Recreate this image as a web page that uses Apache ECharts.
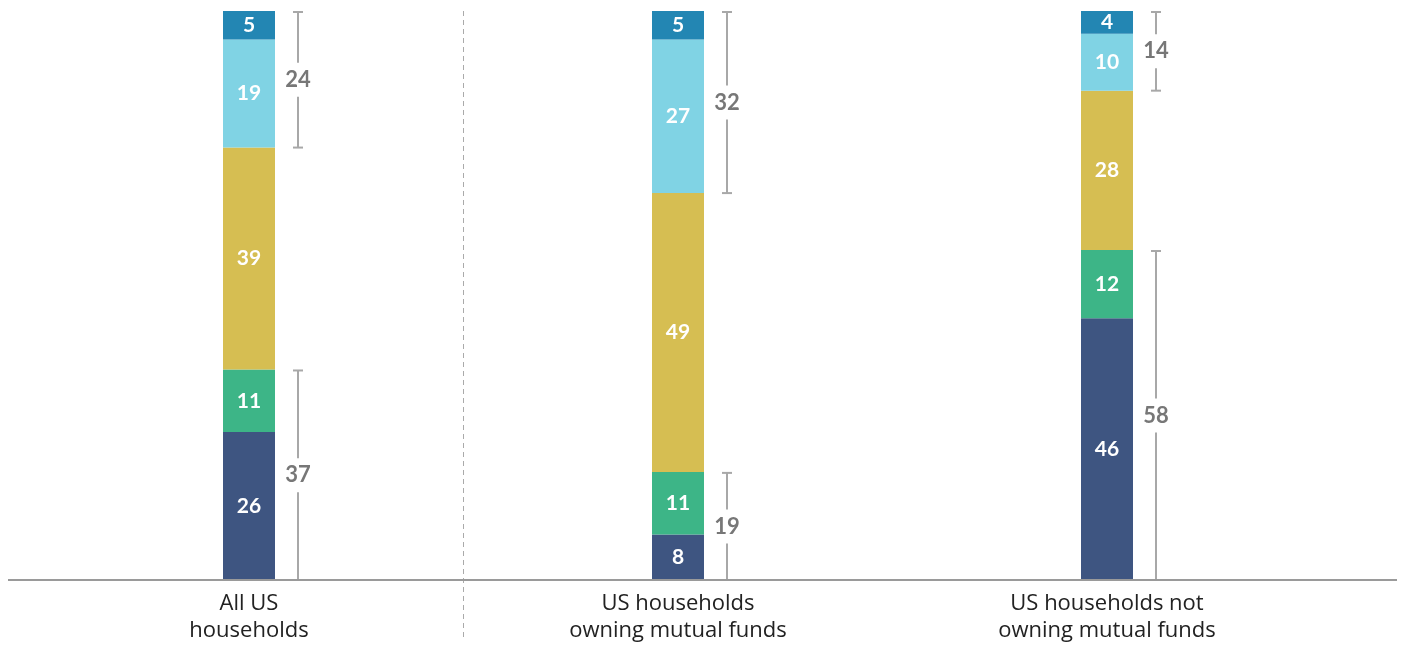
<!DOCTYPE html>
<html>
<head>
<meta charset="utf-8">
<script src="https://cdn.jsdelivr.net/npm/echarts@6/dist/echarts.min.js"></script>
<style>
  html, body { margin: 0; padding: 0; background: #fff; }
  #main { width: 1403px; height: 645px; }
</style>
</head>
<body>
<div id="main"></div>
<script>
// categories and values, bottom segment first
const categories = ['All US\nhouseholds', 'US households\nowning mutual funds', 'US households not\nowning mutual funds'];
const navyVals = [26, 8, 46];
const greenVals = [11, 11, 12];
const yellowVals = [39, 49, 28];
const lightBlueVals = [19, 27, 10];
const blueVals = [5, 5, 4];
// bracket totals: upper two segments and lower two segments
const upperTotals = [24, 32, 14];
const lowerTotals = [37, 19, 58];

const colors = ['#3e5581', '#3db587', '#d6be52', '#80d3e4', '#2386b3'];
const stacks = [navyVals, greenVals, yellowVals, lightBlueVals, blueVals];

// bracket data: [category, from, to, label]
let brackets = [];
categories.forEach(function (c, i) {
  let total = 0;
  stacks.forEach(function (s) { total += s[i]; });
  brackets.push([i, total - upperTotals[i], total, upperTotals[i]]);
  brackets.push([i, 0, lowerTotals[i], lowerTotals[i]]);
});

let myChart = echarts.init(document.getElementById('main'));

let barSeries = stacks.map(function (vals, k) {
  return {
    type: 'bar',
    stack: 'all',
    barWidth: 52,
    data: vals,
    itemStyle: { color: colors[k] },
    label: {
      show: true,
      position: 'inside',
      color: '#fff',
      fontFamily: 'Lato',
      fontWeight: 'bold',
      fontSize: 21
    }
  };
});

let option = {
  animation: false,
  grid: { left: 34.5, right: 81.5, top: 11, bottom: 65 },
  xAxis: {
    type: 'category',
    data: categories,
    axisLine: { show: false },
    axisTick: { show: false },
    axisLabel: {
      margin: 10,
      color: '#222',
      fontFamily: 'Open Sans',
      fontSize: 22,
      lineHeight: 27
    }
  },
  yAxis: { type: 'value', min: 0, max: 100, show: false },
  graphic: [
    {
      type: 'line',
      shape: { x1: 8, y1: 580, x2: 1397, y2: 580 },
      style: { stroke: '#9a9a9a', lineWidth: 2 },
      z: 10
    },
    {
      type: 'line',
      shape: { x1: 463.5, y1: 11, x2: 463.5, y2: 641 },
      style: { stroke: '#aaa', lineWidth: 1, lineDash: [5, 4] }
    }
  ],
  series: barSeries.concat([
    {
      type: 'custom',
      data: brackets,
      clip: false,
      renderItem: function (params, api) {
        let x = api.coord([api.value(0), 0])[0] + 49;
        let yTop = api.coord([api.value(0), api.value(2)])[1] + 1;
        let yBot = api.coord([api.value(0), api.value(1)])[1];
        let ym = (yTop + yBot) / 2;
        let st = { stroke: '#a8a8a8', lineWidth: 2 };
        return {
          type: 'group',
          children: [
            { type: 'line', shape: { x1: x, y1: yTop, x2: x, y2: ym - 17 }, style: st },
            { type: 'line', shape: { x1: x, y1: ym + 17, x2: x, y2: yBot }, style: st },
            { type: 'line', shape: { x1: x - 5, y1: yTop, x2: x + 5, y2: yTop }, style: st },
            { type: 'line', shape: { x1: x - 5, y1: yBot, x2: x + 5, y2: yBot }, style: st },
            {
              type: 'text',
              x: x,
              y: ym,
              style: {
                text: String(api.value(3)),
                fill: '#777',
                font: 'bold 22px Lato',
                align: 'center',
                verticalAlign: 'middle'
              }
            }
          ]
        };
      }
    }
  ])
};
myChart.setOption(option);
</script>
</body>
</html>
